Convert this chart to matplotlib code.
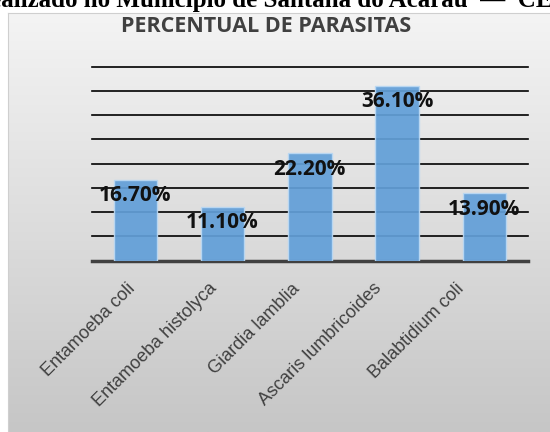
import numpy as np
import matplotlib
matplotlib.use('Agg')
import matplotlib.pyplot as plt
from matplotlib.transforms import ScaledTranslation

# Parasite prevalence data
categories = ['Entamoeba coli', 'Entamoeba histolyca', 'Giardia lamblia',
              'Ascaris lumbricoides', 'Balabtidium coli']
values = [16.7, 11.1, 22.2, 36.1, 13.9]
grid_values = [5, 10, 15, 20, 25, 30, 35, 40]

W, H = 550, 432
fig = plt.figure(figsize=(W / 100, H / 100), dpi=100)
fig.patch.set_facecolor('white')

# Gray gradient panel behind the chart
panel = fig.add_axes([8 / W, 0, 1 - 8 / W, 1 - 13 / H])
grad = np.linspace(0, 1, 256).reshape(-1, 1)
top_c = np.array([0xf4, 0xf4, 0xf4]) / 255
bot_c = np.array([0xc6, 0xc6, 0xc6]) / 255
img = top_c + (bot_c - top_c) * grad[..., None]
panel.imshow(img, aspect='auto', extent=[0, 1, 0, 1])
panel.set_xlim(0, 1)
panel.set_ylim(0, 1)
panel.set_xticks([])
panel.set_yticks([])
for s in panel.spines.values():
    s.set_color('#cfcfcf')
    s.set_linewidth(0.8)
panel.spines['bottom'].set_visible(False)
panel.spines['right'].set_visible(False)

# Caption line above the chart, running off the top edge
fig.text(-28 / W, 1 - 7.5 / H, 'Realizado no Município de Santana do Acaraú  —  CE',
         family='Liberation Serif', fontweight='bold', fontsize=18,
         ha='left', va='baseline', color='black')

fig.text(266 / W, 1 - 27 / H, 'PERCENTUAL DE PARASITAS', family='Open Sans',
         fontweight='bold', fontsize=15.5, color='#404040', ha='center', va='center')

ax = fig.add_axes([91.7 / W, 1 - 260.7 / H, 436.3 / W, (260.7 - 66.7) / H])
ax.patch.set_alpha(0)
x = np.arange(len(categories))

for g in grid_values:
    ax.axhline(g, color='black', lw=1.2, zorder=1, clip_on=False)
ax.axhline(0, color='#404040', lw=2.5, zorder=1, clip_on=False)

ax.bar(x, values, width=0.5, color='#629fd8', edgecolor='#bad8f3',
       linewidth=1, alpha=0.93, zorder=2)

for xi, v in zip(x, values):
    ax.annotate(f'{v:.2f}%', (xi, v), xytext=(0, -11.5), textcoords='offset points',
                ha='center', va='center', family='Open Sans', fontweight='bold',
                fontsize=15, color='#111111', zorder=3)

ax.set_xlim(-0.5, len(categories) - 0.5)
ax.set_ylim(0, 40)
ax.set_yticks([])
ax.set_xticks(x)
ax.set_xticklabels(categories, rotation=45, ha='right', rotation_mode='anchor',
                   family='Liberation Sans', fontsize=13, color='#404040')
ax.tick_params(axis='x', length=0, pad=14)
for i, lbl in enumerate(ax.get_xticklabels()):
    lbl.set_transform(lbl.get_transform()
                      + ScaledTranslation((-9 - 5 * i) / 100, 0, fig.dpi_scale_trans))
for s in ax.spines.values():
    s.set_visible(False)

fig.savefig('out.png', dpi=100)
